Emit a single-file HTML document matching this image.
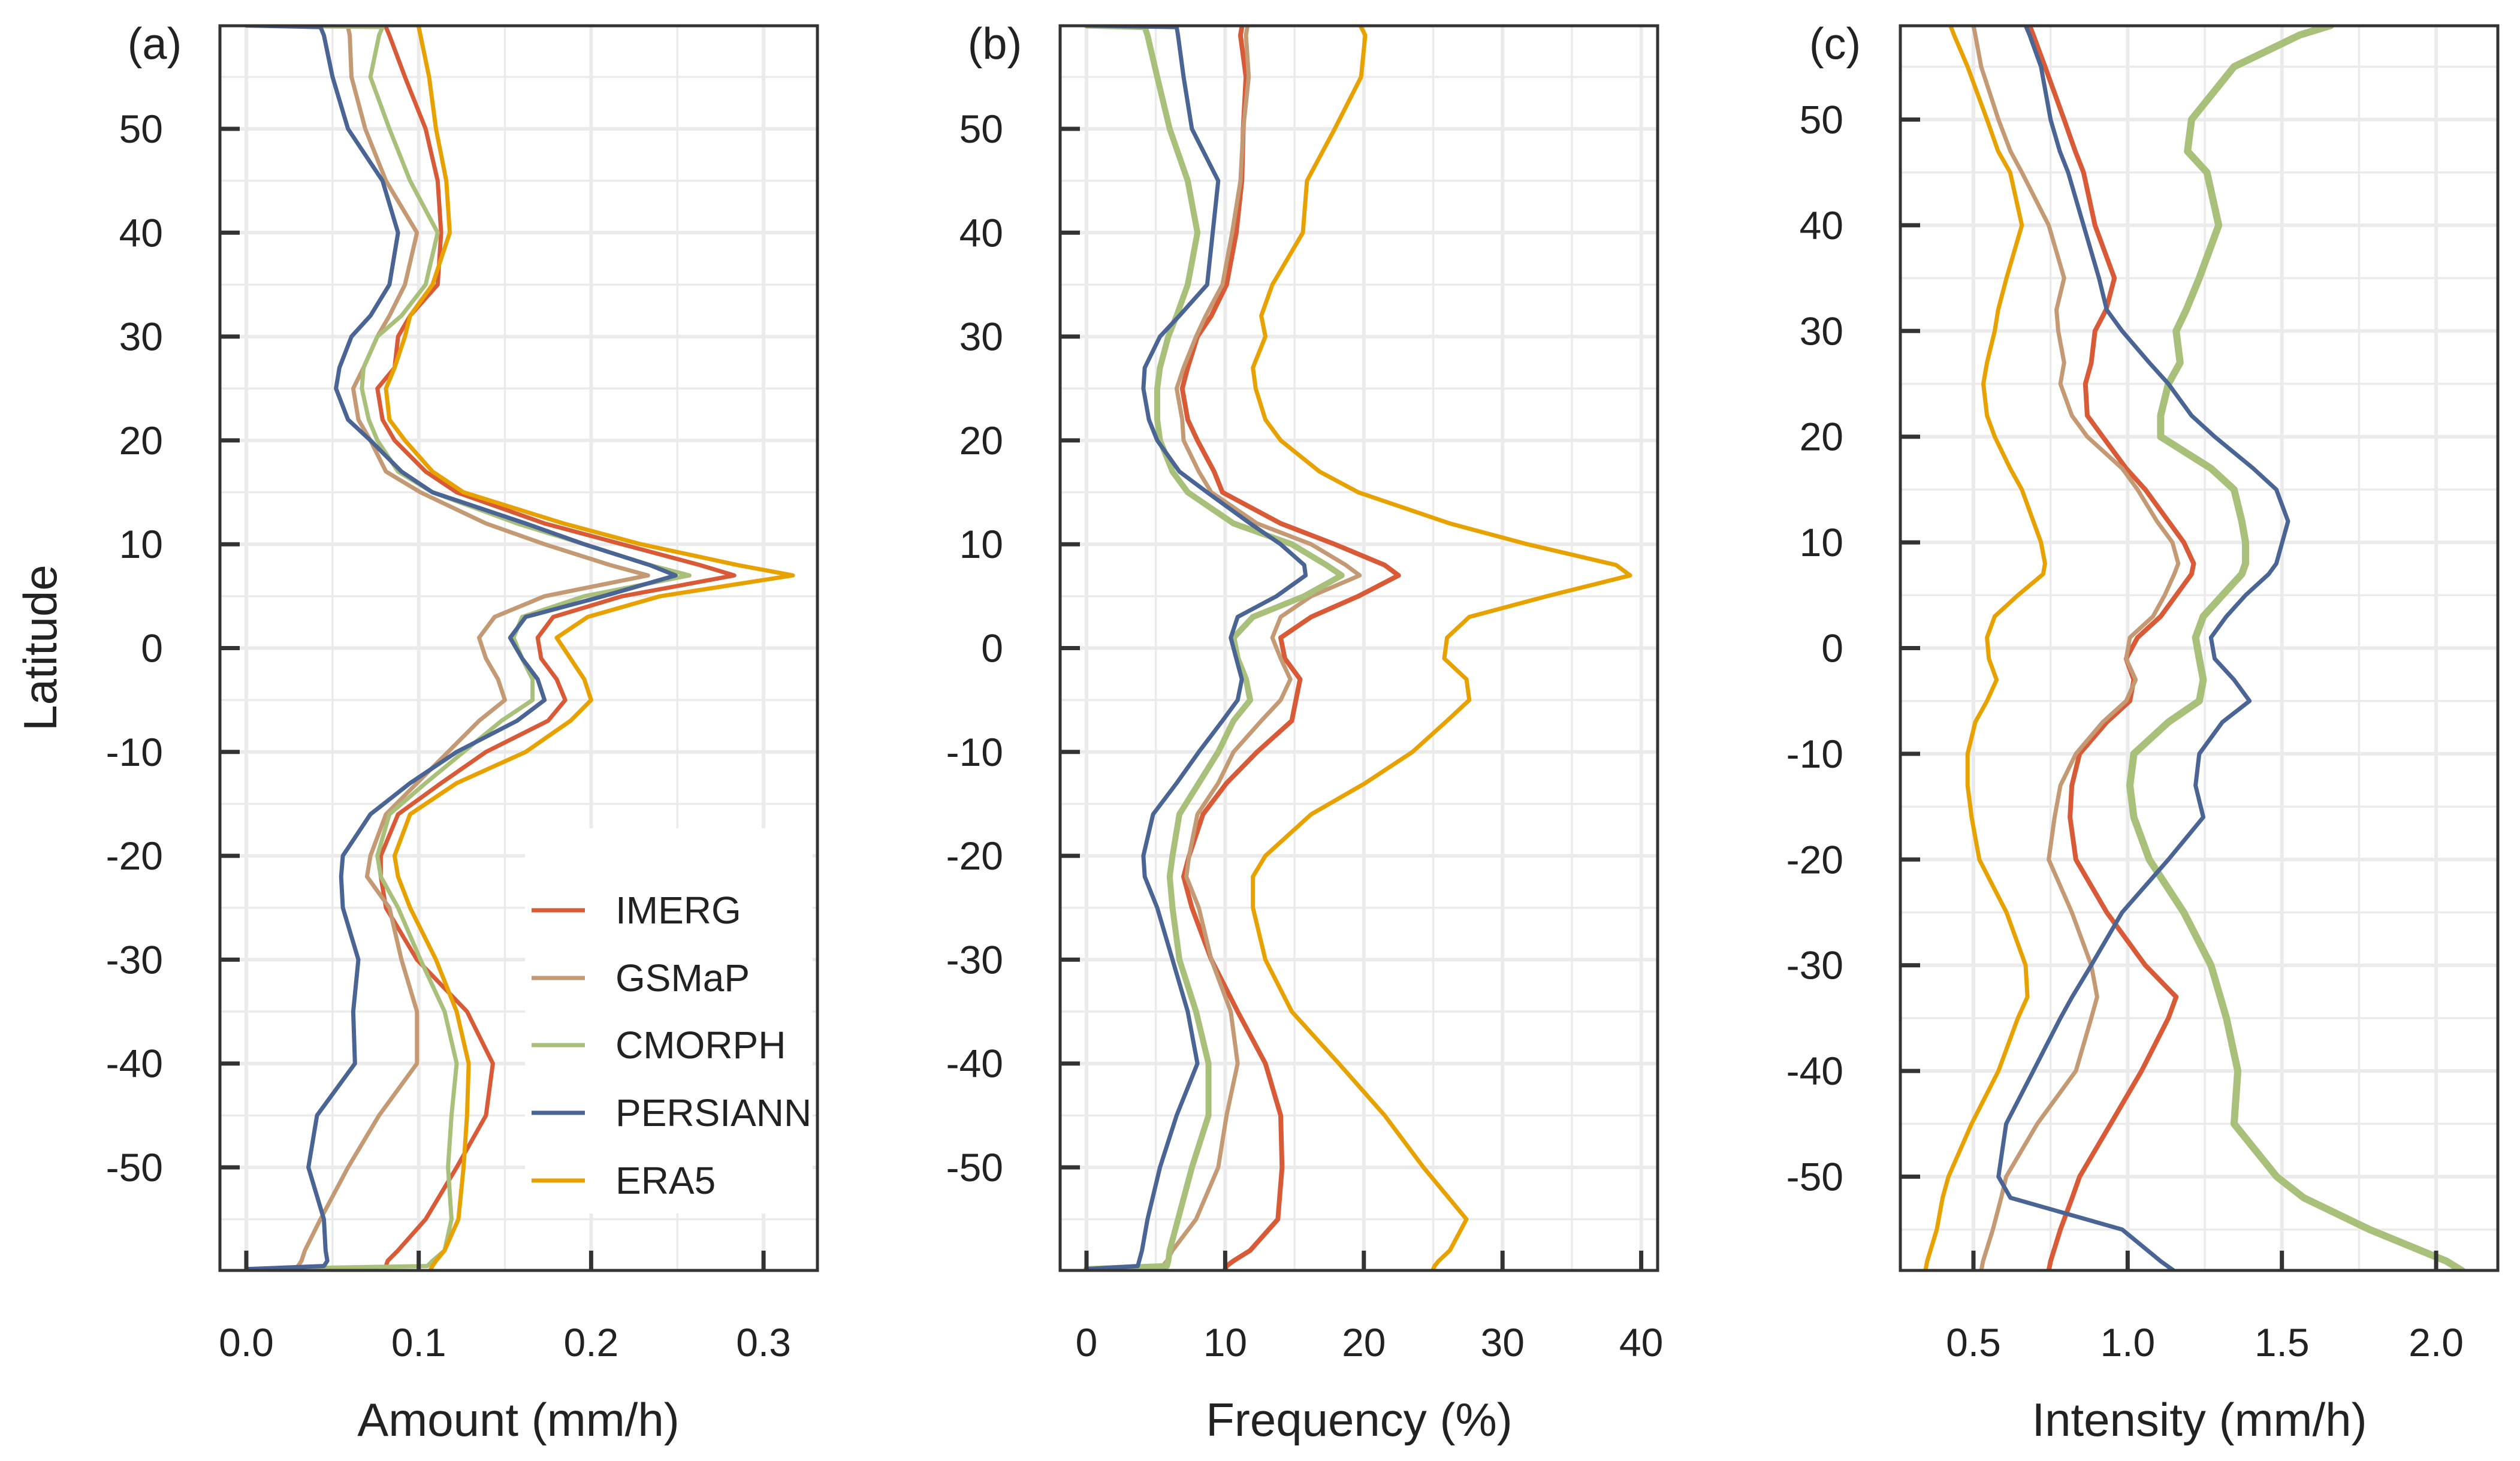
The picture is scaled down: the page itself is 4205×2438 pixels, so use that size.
<!DOCTYPE html>
<html><head><meta charset="utf-8"><title>Latitude profiles</title>
<style>
html,body{margin:0;padding:0;background:#fff;}
svg{display:block;font-family:"Liberation Sans",Arial,sans-serif;}
</style></head>
<body>
<svg id="chart" xmlns="http://www.w3.org/2000/svg" width="4205" height="2438" viewBox="0 0 4205 2438">
<rect x="0" y="0" width="4205" height="2438" fill="#fff"/>
<text x="67" y="1081" font-size="78" fill="#222" text-anchor="middle" dominant-baseline="central" transform="rotate(-90 67 1081)">Latitude</text>
<text x="258" y="73" font-size="74" fill="#222" text-anchor="middle" dominant-baseline="central">(a)</text>
<text x="1660" y="73" font-size="74" fill="#222" text-anchor="middle" dominant-baseline="central">(b)</text>
<text x="3062" y="73" font-size="74" fill="#222" text-anchor="middle" dominant-baseline="central">(c)</text>
<text x="865" y="2369" font-size="78" fill="#222" text-anchor="middle" dominant-baseline="central">Amount (mm/h)</text>
<text x="2268" y="2369" font-size="78" fill="#222" text-anchor="middle" dominant-baseline="central">Frequency (%)</text>
<text x="3670" y="2369" font-size="78" fill="#222" text-anchor="middle" dominant-baseline="central">Intensity (mm/h)</text>
</svg>
<script>
// ---- data ----
const seriesNames = ["IMERG","GSMaP","CMORPH","PERSIANN","ERA5"];
const latTicks = [50,40,30,20,10,0,-10,-20,-30,-40,-50];
const latTickLabels = ["50","40","30","20","10","0","-10","-20","-30","-40","-50"];
const amountTicks = [0,0.1,0.2,0.3];
const amountTickLabels = ["0.0","0.1","0.2","0.3"];
const freqTicks = [0,10,20,30,40];
const freqTickLabels = ["0","10","20","30","40"];
const intenTicks = [0.5,1.0,1.5,2.0];
const intenTickLabels = ["0.5","1.0","1.5","2.0"];

const latAB = [59.95,59.8,59,55,50,45,40,35,32,30,27,25,22,20,17,15,12,10,8,7,5,3,1,-1,-3,-5,-7,-10,-13,-16,-20,-22,-25,-30,-35,-40,-45,-50,-55,-58,-59,-59.5,-59.8];
const latC = [58.9,58,55,50,47,45,40,35,32,30,27,25,22,20,17,15,12,10,8,7,5,3,1,-1,-3,-5,-7,-10,-13,-16,-20,-25,-30,-33,-35,-40,-45,-50,-52,-55,-58,-58.9];

const amountIMERG = [0.081,0.081,0.083,0.092,0.104,0.111,0.113,0.111,0.095,0.088,0.086,0.076,0.079,0.086,0.104,0.122,0.173,0.218,0.263,0.283,0.218,0.178,0.169,0.171,0.180,0.185,0.175,0.139,0.113,0.088,0.078,0.078,0.081,0.099,0.128,0.143,0.139,0.122,0.104,0.088,0.082,0.081,0.080];
const amountGSMaP = [0.058,0.059,0.060,0.061,0.069,0.081,0.099,0.092,0.083,0.076,0.068,0.062,0.065,0.072,0.081,0.101,0.139,0.173,0.211,0.233,0.173,0.144,0.135,0.139,0.146,0.150,0.135,0.117,0.099,0.081,0.072,0.070,0.083,0.090,0.099,0.099,0.077,0.059,0.043,0.034,0.032,0.030,0.029];
const amountCMORPH = [0,0.079,0.077,0.072,0.083,0.095,0.111,0.104,0.090,0.076,0.068,0.067,0.071,0.076,0.088,0.108,0.157,0.196,0.234,0.257,0.196,0.160,0.155,0.160,0.166,0.166,0.148,0.126,0.104,0.083,0.076,0.078,0.088,0.101,0.115,0.122,0.119,0.117,0.119,0.115,0.108,0.105,0];
const amountPERSIANN = [0,0.043,0.045,0.050,0.059,0.079,0.088,0.083,0.072,0.061,0.054,0.052,0.059,0.072,0.090,0.108,0.162,0.196,0.234,0.249,0.207,0.162,0.153,0.160,0.169,0.173,0.157,0.122,0.095,0.072,0.056,0.055,0.056,0.065,0.062,0.063,0.041,0.036,0.045,0.046,0.047,0.045,0];
const amountERA5 = [0.100,0.100,0.101,0.106,0.110,0.116,0.118,0.108,0.095,0.092,0.086,0.081,0.083,0.092,0.108,0.126,0.184,0.229,0.285,0.317,0.240,0.198,0.180,0.188,0.196,0.200,0.188,0.162,0.122,0.095,0.086,0.088,0.095,0.110,0.122,0.129,0.128,0.126,0.123,0.115,0.110,0.108,0.107];

const freqIMERG = [11.2,11.2,11.1,11.5,11.3,11.2,10.8,10.1,9.0,8.0,7.3,6.9,7.3,8.0,9.2,9.8,14.0,17.9,21.5,22.5,19.6,16.2,14.0,14.3,15.4,15.1,14.8,12.3,10.1,8.4,7.4,7.0,7.6,9.0,10.9,12.9,14.0,14.1,13.8,11.8,10.6,10.1,10.0];
const freqGSMaP = [11.6,11.6,11.5,11.7,11.3,11.1,10.5,9.8,8.6,7.9,7.0,6.5,6.9,7.0,8.1,9.0,12.3,16.2,18.7,19.7,16.2,14.0,13.4,14.0,14.7,14.0,12.6,10.6,9.5,8.0,7.4,7.2,8.1,9.0,10.4,10.9,10.1,9.5,7.9,6.2,5.8,5.5,5.4];
const freqCMORPH = [0,4.2,4.4,5.1,6.0,7.3,8.0,7.3,6.5,5.9,5.3,5.1,5.1,5.3,6.2,7.3,10.6,14.8,17.3,18.4,15.7,12.0,10.6,10.9,11.5,11.8,10.6,9.5,8.1,6.7,6.2,6.0,6.2,6.7,7.9,8.8,8.8,7.6,6.6,6.0,5.9,5.8,0];
const freqPERSIANN = [0,6.5,6.6,7.0,7.6,9.5,9.1,8.7,6.7,5.3,4.2,4.1,4.5,5.1,6.7,8.7,11.8,14.0,15.7,15.8,13.7,10.9,10.4,10.8,11.2,10.9,9.8,8.1,6.5,4.8,4.1,4.2,5.1,6.2,7.3,8.0,6.5,5.3,4.4,4.0,3.8,3.7,0];
const freqERA5 = [19.8,19.8,20.1,19.8,17.9,15.9,15.6,13.4,12.6,12.9,12.0,12.2,12.9,14.0,16.8,19.6,26.2,31.8,38.2,39.2,33.2,27.6,26.0,25.8,27.4,27.6,26.0,23.5,20.1,16.2,12.9,12.0,12.0,12.9,14.8,18.2,21.5,24.3,27.4,26.2,25.4,25.1,25.0];

const intenIMERG = [0.682,0.694,0.732,0.794,0.83,0.857,0.894,0.957,0.93,0.894,0.882,0.863,0.869,0.919,0.995,1.057,1.132,1.182,1.214,1.207,1.157,1.107,1.032,0.995,1.020,1.007,0.932,0.844,0.819,0.813,0.832,0.932,1.057,1.157,1.132,1.045,0.945,0.844,0.82,0.782,0.750,0.744];
const intenGSMaP = [0.500,0.506,0.525,0.581,0.62,0.657,0.744,0.794,0.769,0.775,0.794,0.782,0.819,0.869,0.982,1.032,1.095,1.145,1.164,1.151,1.120,1.082,1.007,0.995,1.026,0.995,0.919,0.832,0.782,0.763,0.744,0.819,0.882,0.901,0.882,0.832,0.707,0.606,0.59,0.563,0.531,0.525];
const intenCMORPH = [1.658,1.558,1.345,1.207,1.194,1.257,1.295,1.232,1.19,1.157,1.170,1.132,1.107,1.107,1.270,1.345,1.370,1.382,1.382,1.370,1.307,1.245,1.220,1.232,1.245,1.232,1.132,1.020,1.007,1.020,1.070,1.182,1.270,1.30,1.320,1.357,1.345,1.483,1.571,1.784,2.034,2.084];
const intenPERSIANN = [0.669,0.682,0.719,0.750,0.78,0.807,0.857,0.907,0.932,0.982,1.070,1.132,1.207,1.282,1.407,1.482,1.520,1.501,1.482,1.457,1.382,1.320,1.270,1.282,1.345,1.395,1.307,1.232,1.220,1.245,1.132,0.982,0.882,0.82,0.782,0.694,0.606,0.581,0.62,0.982,1.107,1.150];
const intenERA5 = [0.425,0.437,0.481,0.544,0.58,0.619,0.657,0.607,0.58,0.569,0.544,0.532,0.544,0.569,0.619,0.657,0.694,0.719,0.732,0.726,0.644,0.569,0.544,0.550,0.575,0.544,0.506,0.481,0.481,0.494,0.519,0.607,0.669,0.675,0.644,0.581,0.494,0.419,0.40,0.381,0.350,0.344];

// ---- layout ----
const NS = "http://www.w3.org/2000/svg";
const svg = document.getElementById("chart");
const colors = {IMERG:"#d95a36",GSMaP:"#c49a74",CMORPH:"#a8c07a",PERSIANN:"#4a6594",ERA5:"#e8a200"};

const panels = [
  {id:"a", x0:367, x1:1364, y0:43, y1:2120, v0:0, px0:411, pxPerUnit:2877, yScale:17.33,
   ticks:amountTicks, tickLabels:amountTickLabels, gridStep:0.05, majorStep:0.1, lat:latAB,
   series:[amountIMERG,amountGSMaP,amountCMORPH,amountPERSIANN,amountERA5], widths:[7,7,7,7,7]},
  {id:"b", x0:1769, x1:2766, y0:43, y1:2120, v0:0, px0:1813, pxPerUnit:23.14, yScale:17.33,
   ticks:freqTicks, tickLabels:freqTickLabels, gridStep:5, majorStep:10, lat:latAB,
   series:[freqIMERG,freqGSMaP,freqCMORPH,freqPERSIANN,freqERA5], widths:[8,7,10,7,7]},
  {id:"c", x0:3171, x1:4168, y0:43, y1:2120, v0:0.5, px0:3293, pxPerUnit:514.7, yScale:17.64,
   ticks:intenTicks, tickLabels:intenTickLabels, gridStep:0.25, majorStep:0.5, lat:latC,
   series:[intenIMERG,intenGSMaP,intenCMORPH,intenPERSIANN,intenERA5], widths:[8,7,12,7,7]}
];
const LAT0Y = 1081.5;

function mk(tag, attrs){ const e=document.createElementNS(NS,tag); for(const k in attrs) e.setAttribute(k,attrs[k]); return e; }

panels.forEach(p=>{
  const xs = v => p.px0 + (v - p.v0)*p.pxPerUnit;
  const ys = lat => LAT0Y - lat*p.yScale;
  const g = mk("g",{});
  
  
  svg.appendChild(g);
  const clipId = "clip"+p.id;
  const cp = mk("clipPath",{id:clipId});
  cp.appendChild(mk("rect",{x:p.x0,y:p.y0,width:p.x1-p.x0,height:p.y1-p.y0}));
  g.appendChild(cp);
  const vmin = p.v0 + (p.x0-p.px0)/p.pxPerUnit, vmax = p.v0 + (p.x1-p.px0)/p.pxPerUnit;
  for(let k=Math.ceil(vmin/p.gridStep); k*p.gridStep<=vmax; k++){
    const v=k*p.gridStep; const x=xs(v);
    const major = Math.abs(v/p.majorStep - Math.round(v/p.majorStep))<1e-6;
    const gl = mk("line",{x1:x,x2:x,y1:p.y0,y2:p.y1,stroke:"#ebebeb","stroke-width":major?6:3.5});
    
    
    g.appendChild(gl);
  }
  for(let lat=-55; lat<=55; lat+=5){
    const y=ys(lat);
    const gl = mk("line",{x1:p.x0,x2:p.x1,y1:y,y2:y,stroke:"#ebebeb","stroke-width":(lat%10===0)?6:3.5});
    
    
    g.appendChild(gl);
  }
  if(p.id==="a"){
    const lb = mk("rect",{x:876,y:1382,width:480,height:643,fill:"#fff"});
    
    
    g.appendChild(lb);
  }
  p.series.forEach((vals,i)=>{
    const name = seriesNames[i];
    const pts = vals.map((v,j)=> xs(v).toFixed(1)+","+ys(p.lat[j]).toFixed(1)).join(" ");
    const pl = mk("polyline",{points:pts,fill:"none",stroke:colors[name],"stroke-width":p.widths[i],"stroke-linejoin":"round","stroke-linecap":"round","clip-path":"url(#"+clipId+")"});
    
    
    g.appendChild(pl);
  });
  const br = mk("rect",{x:p.x0,y:p.y0,width:p.x1-p.x0,height:p.y1-p.y0,fill:"none",stroke:"#333","stroke-width":5});
  
  
  g.appendChild(br);
  latTicks.forEach((lat,i)=>{
    const y=ys(lat);
    const t = mk("line",{x1:p.x0,x2:p.x0+33,y1:y,y2:y,stroke:"#333","stroke-width":7});
    
    
    g.appendChild(t);
    const tl = mk("text",{x:p.x0-95,y:y,"font-size":66,fill:"#222","text-anchor":"end","dominant-baseline":"central"});
    tl.textContent = latTickLabels[i];
    
    
    g.appendChild(tl);
  });
  p.ticks.forEach((v,i)=>{
    const x=xs(v);
    const t = mk("line",{x1:x,x2:x,y1:p.y1,y2:p.y1-33,stroke:"#333","stroke-width":7});
    
    
    g.appendChild(t);
    const tl = mk("text",{x:x,y:2240,"font-size":66,fill:"#222","text-anchor":"middle","dominant-baseline":"central"});
    tl.textContent = p.tickLabels[i];
    
    
    g.appendChild(tl);
  });
});

const legendY = [1519,1632,1744,1857,1970];
seriesNames.forEach((name,i)=>{
  const lg = mk("g",{});
  
  
  lg.appendChild(mk("line",{x1:887,x2:976,y1:legendY[i],y2:legendY[i],stroke:colors[name],"stroke-width":7}));
  const t = mk("text",{x:1027,y:legendY[i],"font-size":64,fill:"#222","dominant-baseline":"central"});
  t.textContent = name;
  lg.appendChild(t);
  svg.appendChild(lg);
});
</script>
</body></html>
